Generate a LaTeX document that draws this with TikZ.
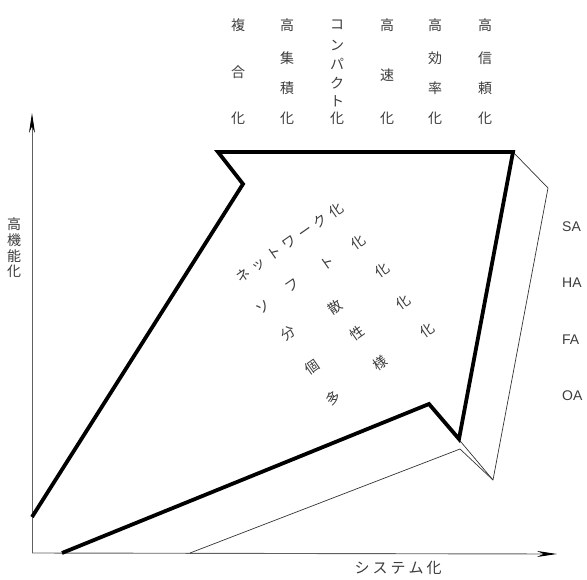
\documentclass[tikz,border=0pt]{standalone}
\usepackage{fontspec}
\usetikzlibrary{arrows.meta}
\newfontfamily\jp{Noto Sans CJK JP}
\newfontfamily\lat{Liberation Sans}
\definecolor{txt}{HTML}{3C3C3C}
\definecolor{axis}{HTML}{606060}
\begin{document}
\begin{tikzpicture}[x=1pt,y=-1pt,
  jc/.style={inner sep=0pt,text=txt,font=\jp\fontsize{14}{14}\selectfont},
  rc/.style={jc,rotate=35},
  lab/.style={inner sep=0pt,text=txt,anchor=west,font=\lat\fontsize{14}{14}\selectfont},
  thick line/.style={line width=3.8pt,line join=miter,black},
  thin line/.style={line width=0.7pt,black!80},
  axisline/.style={line width=0.9pt,axis}]
\useasboundingbox (0,0) rectangle (587,579);
% axes
\coordinate (O) at (32,553);
\coordinate (Ytop) at (32,113);
\coordinate (Xend) at (557,554);
\draw[axisline,-{Stealth[length=20pt,width=6pt,color=black]}] (O) -- (Ytop);
\draw[axisline,-{Stealth[length=20pt,width=6pt,color=black]}] (O) -- (Xend);
% 3D side (thin)
\coordinate (T1) at (513,152);
\coordinate (T2) at (548,188);
\coordinate (T3) at (493,480);
\coordinate (N) at (429,404);
\coordinate (B) at (459,439);
\coordinate (L1) at (460,449);
\coordinate (L2) at (190,553);
\draw[thin line,line join=round] (T1) -- (T2) -- (T3) -- (N);
\draw[thin line] (L1) -- (T3);
\draw[thin line] (L1) -- (L2);
% thick arrow outline
\coordinate (A1) at (32,517);
\coordinate (A2) at (243,184);
\coordinate (A3) at (218,152);
\coordinate (A6) at (62,553);
\draw[thick line] (A1) -- (A2) -- (A3) -- (T1) -- (B) -- (N) -- (A6);
% top column labels
\node[jc] (c1a) at (238,25) {複};
\node[jc] (c1b) at (238,72) {合};
\node[jc] (c1c) at (238,118) {化};
\node[jc] (c2a) at (287,25) {高};
\node[jc] (c2b) at (287,58) {集};
\node[jc] (c2c) at (287,88) {積};
\node[jc] (c2d) at (287,118) {化};
\node[jc] (c3a) at (337,25) {コ};
\node[jc] (c3b) at (337,45) {ン};
\node[jc] (c3c) at (337,64) {パ};
\node[jc] (c3d) at (337,83) {ク};
\node[jc] (c3e) at (337,101) {ト};
\node[jc] (c3f) at (337,118) {化};
\node[jc] (c4a) at (387,25) {高};
\node[jc] (c4b) at (387,75) {速};
\node[jc] (c4c) at (387,118) {化};
\node[jc] (c5a) at (435,25) {高};
\node[jc] (c5b) at (435,58) {効};
\node[jc] (c5c) at (435,88) {率};
\node[jc] (c5d) at (435,118) {化};
\node[jc] (c6a) at (485,25) {高};
\node[jc] (c6b) at (485,58) {信};
\node[jc] (c6c) at (485,88) {頼};
\node[jc] (c6d) at (485,118) {化};
% left vertical label
\node[jc] (v1) at (14,224) {高};
\node[jc] (v2) at (14,240) {機};
\node[jc] (v3) at (14,256) {能};
\node[jc] (v4) at (14,271) {化};
% bottom label
\node[jc,font=\jp\fontsize{15}{15}\selectfont] (sys) at (398,568) {シ\hspace{3pt}ス\hspace{3pt}テ\hspace{3pt}ム\hspace{3pt}化};
% right labels
\node[lab] (sa) at (562,227) {SA};
\node[lab] (ha) at (562,283) {HA};
\node[lab] (fa) at (562,340) {FA};
\node[lab] (oa) at (562,396) {OA};
% rotated words
\node[rc] (w1) at (289.5,242.5) {ネ\hspace{5pt}ッ\hspace{5pt}ト\hspace{5pt}ワ\hspace{5pt}ー\hspace{5pt}ク\hspace{5pt}化};
\node[rc] (w2a) at (263,307) {ソ};
\node[rc] (w2b) at (292,286) {フ};
\node[rc] (w2c) at (327,263) {ト};
\node[rc] (w2d) at (358,242) {化};
\node[rc] (w3a) at (288,333) {分};
\node[rc] (w3b) at (335,307) {散};
\node[rc] (w3c) at (382,270) {化};
\node[rc] (w4a) at (312,367) {個};
\node[rc] (w4b) at (357,333) {性};
\node[rc] (w4c) at (403,302) {化};
\node[rc] (w5a) at (333,398) {多};
\node[rc] (w5b) at (380,363) {様};
\node[rc] (w5c) at (427,330) {化};
\end{tikzpicture}
\end{document}
